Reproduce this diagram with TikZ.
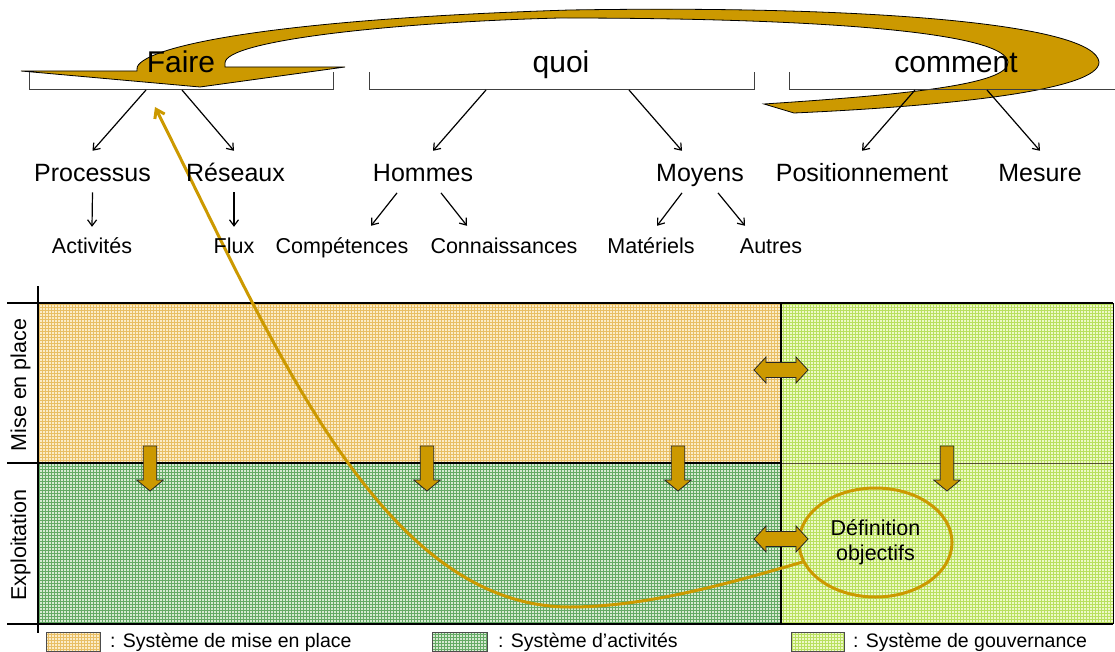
\documentclass[tikz,border=0pt]{standalone}
\usepackage{fontspec}
\setmainfont{Liberation Sans}
\usetikzlibrary{arrows.meta,shapes.geometric,patterns}
\definecolor{gold}{RGB}{204,153,0}
\definecolor{orbase}{RGB}{251,236,200}
\definecolor{orline}{RGB}{232,190,100}
\definecolor{gnbase}{RGB}{214,234,210}
\definecolor{gnline}{RGB}{100,170,100}
\definecolor{lgbase}{RGB}{238,249,200}
\definecolor{lgline}{RGB}{185,224,95}
\newcommand\myfs[1]{\fontsize{#1}{#1}\selectfont}
\tikzset{
  lvla/.style={font=\myfs{30}, inner sep=0pt, anchor=base},
  lvlb/.style={font=\myfs{25}, inner sep=0pt, text height=18pt, text depth=0pt, anchor=base},
  lvlc/.style={font=\myfs{21.5}, inner sep=0pt, text height=15.5pt, text depth=0pt, anchor=base},
  treearr/.style={draw=black, line width=1.2pt, -{Straight Barb[length=6pt,width=9pt]}},
  brk/.style={draw=black!75, line width=1pt},
  gblock/.style={fill=gold, draw=black!85, line width=0.8pt},
  sidelab/.style={font=\myfs{21.5}, rotate=90, anchor=base, inner sep=0pt},
  legtext/.style={font=\myfs{19.5}, anchor=base west, inner sep=0pt},
  darr/.pic={\path[gblock] (-6.7,0) -- (6.7,0) -- (6.7,34) -- (13.3,34) -- (0,45) -- (-13.3,34) -- (-6.7,34) -- cycle;},
  harr/.pic={\path[gblock] (-27,0) -- (-15,-13) -- (-15,-7.5) -- (15,-7.5) -- (15,-13) -- (27,0) -- (15,13) -- (15,7.5) -- (-15,7.5) -- (-15,13) -- cycle;}
}
\begin{document}
\begin{tikzpicture}[x=1pt,y=-1pt]
\useasboundingbox (0,0) rectangle (1115,652);

% ---- grid regions ----
\fill[orbase] (38,303) rectangle (781,463);
\fill[pattern=grid, pattern color=orline] (38,303) rectangle (781,463);
\fill[gnbase] (38,463) rectangle (781,624);
\fill[pattern=grid, pattern color=gnline] (38,463) rectangle (781,624);
\fill[lgbase] (781,303) rectangle (1113,624);
\fill[pattern=grid, pattern color=lgline] (781,303) rectangle (1113,624);
\draw[line width=1.2pt] (7,303) -- (1113,303);
\draw[line width=1.2pt] (7,463) -- (781,463);
\draw[line width=0.8pt, draw=black!55!olive] (781,463) -- (1113,463);
\draw[line width=1.2pt] (781,303) -- (781,624);
\draw[line width=1pt] (1113,303) -- (1113,624);
\draw[line width=1.2pt] (7,624) -- (1113,624);
\draw[line width=1.2pt] (38,286) -- (38,633);

\node[sidelab] (mep) at (26,385) {Mise en place};
\node[sidelab] (expl) at (26,545) {Exploitation};

% ---- big swoosh arrow ----
\path[fill=gold, draw=black, line width=0.8pt]
  (200,87) -- (21,71) -- (137,71)
  .. controls (130,50) and (250,20) .. (570,10)
  .. controls (880,5) and (1095,25) .. (1099,62)
  .. controls (1100,90) and (950,106) .. (794,113)
  -- (764,104)
  .. controls (900,95) and (1010,85) .. (1008,62)
  .. controls (1005,35) and (850,18) .. (560,18)
  .. controls (400,22) and (225,40) .. (225,63)
  -- (225,67) -- (345,67) -- cycle;

% ---- ellipse ----
\node[ellipse, draw=gold, line width=3pt, minimum width=153pt, minimum height=109pt,
      inner sep=0pt, align=center, font={\fontsize{21.5}{25}\selectfont}] (def) at (875.5,542.5) {Définition\\objectifs};

% ---- gold curve ----
\coordinate (tipF) at (155,107);
\draw[gold, line width=3pt, -{Straight Barb[length=8pt,width=11pt]}]
  (def.195) .. controls (740,580) and (650,607) .. (570,607)
  .. controls (380,607) and (272,340) .. (tipF);

% ---- block arrows ----
\pic at (150,446) {darr};
\pic at (427,446) {darr};
\pic at (678,446) {darr};
\pic at (947,446) {darr};
\pic at (781,370) {harr};
\pic at (781,539) {harr};

% ---- brackets ----
\draw[brk] (29,72) -- (29,90) -- (333,90) -- (333,72);
\draw[brk] (369,72) -- (369,90) -- (754,90) -- (754,72);
\draw[brk] (789,72) -- (789,90) -- (1115,90);
\coordinate (fa1) at (146,90);
\coordinate (fa2) at (182,90);
\coordinate (qa1) at (486,90);
\coordinate (qa2) at (629,90);
\coordinate (ca1) at (915,90);
\coordinate (ca2) at (987,90);

% ---- texts ----
\node[lvla] (faire) at (181,73) {Faire};
\node[lvla] (quoi) at (561,73) {quoi};
\node[lvla] (comment) at (956,73) {comment};

\node[lvlb] (proc) at (92.5,181.7) {Processus};
\node[lvlb] (res) at (235.5,181.7) {Réseaux};
\node[lvlb] (hom) at (423,181.7) {Hommes};
\node[lvlb] (moy) at (700,181.7) {Moyens};
\node[lvlb] (pos) at (862,181.7) {Positionnement};
\node[lvlb] (mes) at (1040,181.7) {Mesure};

\node[lvlc] (act) at (92,254) {Activités};
\node[lvlc] (flux) at (234,254) {Flux};
\node[lvlc] (comp) at (342,254) {Compétences};
\node[lvlc] (conn) at (504,254) {Connaissances};
\node[lvlc] (mat) at (651,254) {Matériels};
\node[lvlc] (aut) at (771,254) {Autres};

% ---- tree arrows ----
\draw[treearr] (fa1) -- ([yshift=12.7pt]proc.north);
\draw[treearr] (fa2) -- ([xshift=-1.5pt,yshift=12.7pt]res.north);
\draw[treearr] (qa1) -- ([xshift=10pt,yshift=12.7pt]hom.north);
\draw[treearr] (qa2) -- ([xshift=-18pt,yshift=12.7pt]moy.north);
\draw[treearr] (ca1) -- ([yshift=12.7pt]pos.north);
\draw[treearr] (ca2) -- ([yshift=12.7pt]mes.north);

\draw[treearr] ([yshift=-10.5pt]proc.south) -- ([yshift=11.5pt]act.north);
\draw[treearr] ([xshift=-1.5pt,yshift=-10.5pt]res.south) -- ([yshift=11.5pt]flux.north);
\draw[treearr] ([xshift=-26pt,yshift=-11pt]hom.south) -- ([xshift=29pt,yshift=12.5pt]comp.north);
\draw[treearr] ([xshift=18pt,yshift=-11pt]hom.south) -- ([xshift=-37pt,yshift=12.5pt]conn.north);
\draw[treearr] ([xshift=-18pt,yshift=-11pt]moy.south) -- ([xshift=6pt,yshift=12.5pt]mat.north);
\draw[treearr] ([xshift=18pt,yshift=-11pt]moy.south) -- ([xshift=-26pt,yshift=12.5pt]aut.north);

% ---- legend ----
\fill[orbase] (46,632) rectangle (100,651);
\fill[pattern=grid, pattern color=orline] (46,632) rectangle (100,651);
\draw[line width=0.8pt, black!70] (46,632) rectangle (100,651);
\fill[gnbase] (432,632) rectangle (487,651);
\fill[pattern=grid, pattern color=gnline] (432,632) rectangle (487,651);
\draw[line width=0.8pt, black!70] (432,632) rectangle (487,651);
\fill[lgbase] (791,632) rectangle (844,651);
\fill[pattern=grid, pattern color=lgline] (791,632) rectangle (844,651);
\draw[line width=0.8pt, black!70] (791,632) rectangle (844,651);
\node[legtext] (l1) at (110,647) {: Système de mise en place};
\node[legtext] (l2) at (498,647) {: Système d’activités};
\node[legtext] (l3) at (853,647) {: Système de gouvernance};
\end{tikzpicture}
\end{document}
